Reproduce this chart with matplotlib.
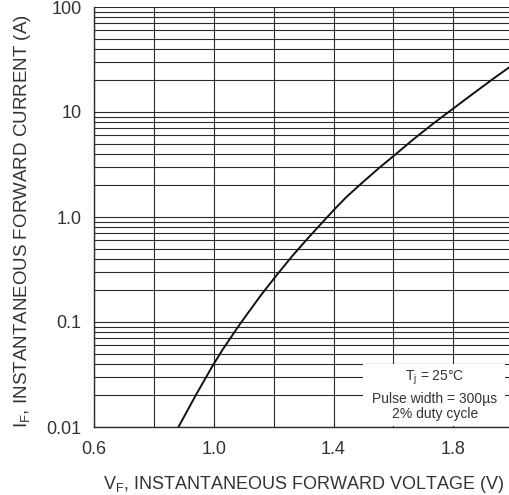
import matplotlib
matplotlib.use("Agg")
import matplotlib.pyplot as plt
from matplotlib.patches import Rectangle
from matplotlib.ticker import FixedLocator, LogLocator, NullFormatter

plt.rcParams['font.family'] = ['Liberation Sans', 'DejaVu Sans']

# forward characteristic
vf = [0.882, 0.940, 0.998, 1.030, 1.084, 1.117, 1.160, 1.209, 1.260, 1.318,
      1.375, 1.400, 1.443, 1.498, 1.555, 1.600, 1.667, 1.734, 1.800, 1.868,
      1.935, 1.984, 2.000]
i_f = [0.0100, 0.0201, 0.0391, 0.0548, 0.0925, 0.125, 0.184, 0.277, 0.418,
       0.645, 0.970, 1.16, 1.55, 2.15, 2.98, 3.80, 5.5, 7.8, 10.8, 15.1,
       20.9, 26.3, 28.3]

x_major = [0.6, 1.0, 1.4, 1.8]
x_grid = [0.8, 1.2, 1.6, 2.0]
y_major = [0.01, 0.1, 1.0, 10, 100]
y_labels = ['0.01', '0.1', '1.0', '10', '100']

note = ['T$_\\mathregular{j}$ = 25°C', 'Pulse width = 300µs', '2% duty cycle']

txt = '#333333'
grid = '#2a2a2a'

fig = plt.figure(figsize=(5.09, 4.95), dpi=100)
ax = fig.add_axes([94 / 509, 68 / 495, 419.2 / 509, 420 / 495])

ax.plot(vf, i_f, color='#111111', lw=1.4, zorder=5)

ax.set_yscale('log')
ax.set_xlim(0.6, 2.0)
ax.set_ylim(0.01, 100)

ax.xaxis.set_major_locator(FixedLocator(x_major))
ax.xaxis.set_minor_locator(FixedLocator(x_grid))
ax.set_xticklabels(['%.1f' % v for v in x_major])
ax.yaxis.set_major_locator(FixedLocator(y_major))
ax.set_yticklabels(y_labels)
ax.yaxis.set_minor_locator(LogLocator(base=10, subs=range(2, 10)))
ax.yaxis.set_minor_formatter(NullFormatter())

ax.grid(True, which='both', axis='both', color=grid, lw=0.8)
ax.set_axisbelow(True)

ax.tick_params(which='both', direction='in', length=0, labelsize=13,
               labelcolor=txt)
ax.tick_params(axis='y', pad=9)
ax.tick_params(axis='x', which='both', length=3, color=grid, pad=10)

for s in ['top', 'right']:
    ax.spines[s].set_visible(False)
for s in ['left', 'bottom']:
    ax.spines[s].set_color(grid)
    ax.spines[s].set_linewidth(1.0)
    ax.spines[s].set_zorder(6)

# white panel behind the test conditions
ax.add_patch(Rectangle((0.642, 0.003), 0.338, 0.147, transform=ax.transAxes,
                       facecolor='white', edgecolor='none', zorder=3))
ax.text(0.8135, 0.118, note[0], transform=ax.transAxes, ha='center',
        va='center', fontsize=10, color=txt, zorder=4)
ax.text(0.8135, 0.067, note[1], transform=ax.transAxes, ha='center',
        va='center', fontsize=10, color=txt, zorder=4)
ax.text(0.8135, 0.031, note[2], transform=ax.transAxes, ha='center',
        va='center', fontsize=10, color=txt, zorder=4)

ax.set_xlabel('V$_\\mathregular{F}$, INSTANTANEOUS FORWARD VOLTAGE (V)',
              fontsize=13, color=txt)
ax.set_ylabel('I$_\\mathregular{F}$, INSTANTANEOUS FORWARD CURRENT (A)',
              fontsize=13.5, color=txt)
ax.xaxis.set_label_coords(0.5, -0.112)
ax.yaxis.set_label_coords(-0.146, 0.49)

fig.savefig('out.png', dpi=100)
